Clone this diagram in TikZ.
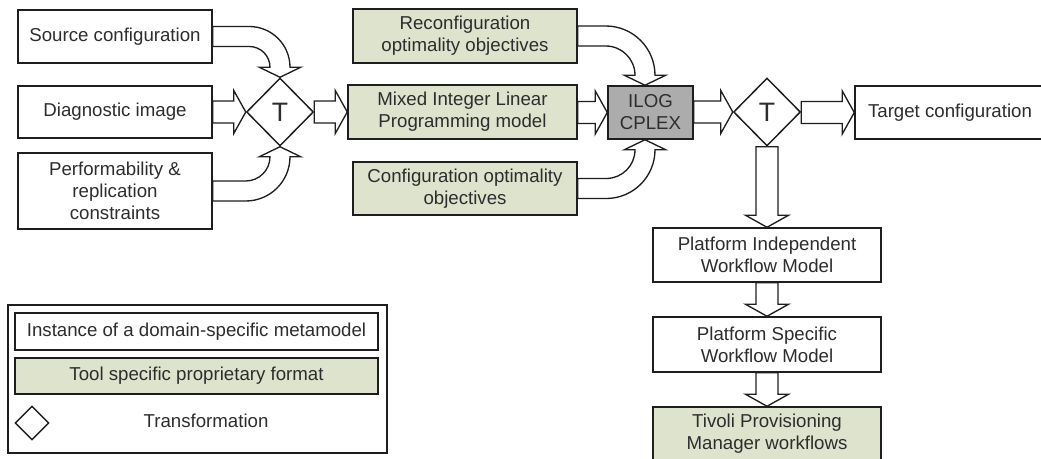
\documentclass[tikz,border=0pt]{standalone}
\usepackage{fontspec}
\setmainfont{Liberation Sans}
\usetikzlibrary{shapes.geometric,calc}
\definecolor{toolfill}{RGB}{221,227,205}
\definecolor{ilogfill}{RGB}{172,172,172}
\definecolor{linec}{RGB}{30,30,30}
\definecolor{textc}{RGB}{45,45,45}
\def\aSW{8.25pt}
\def\aHW{16.125pt}
\def\aHL{9pt}
\def\cSW{7.5pt}
\def\cHW{15.5pt}
\def\cHL{7.5pt}
\newcommand\HArrow[2]{\draw[blk] let \p1=(#1),\p2=(#2) in
  (\x1,\y2+\aSW) -- (\x2-\aHL,\y2+\aSW) -- (\x2-\aHL,\y2+\aHW) -- (\x2,\y2)
  -- (\x2-\aHL,\y2-\aHW) -- (\x2-\aHL,\y2-\aSW) -- (\x1,\y2-\aSW) -- cycle;}
\newcommand\VArrow[2]{\draw[blk] let \p1=(#1),\p2=(#2) in
  (\x2+\aSW,\y1) -- (\x2+\aSW,\y2+\aHL) -- (\x2+\aHW,\y2+\aHL) -- (\x2,\y2)
  -- (\x2-\aHW,\y2+\aHL) -- (\x2-\aSW,\y2+\aHL) -- (\x2-\aSW,\y1) -- cycle;}
\newcommand\CArrowDown[2]{\draw[blk] let \p1=(#1),\p2=(#2),\n1={\y1-\y2-\cHL} in
  (\x1,\y1+\cSW) -- (\x2-\n1,\y1+\cSW) arc[start angle=90,end angle=0,radius={\n1+\cSW}]
  -- (\x2+\cHW,\y2+\cHL) -- (\x2,\y2) -- (\x2-\cHW,\y2+\cHL) -- (\x2-\cSW,\y2+\cHL)
  arc[start angle=0,end angle=90,radius={\n1-\cSW}] -- (\x1,\y1-\cSW) -- cycle;}
\newcommand\CArrowUp[2]{\draw[blk] let \p1=(#1),\p2=(#2),\n1={\y2-\cHL-\y1} in
  (\x1,\y1-\cSW) -- (\x2-\n1,\y1-\cSW) arc[start angle=-90,end angle=0,radius={\n1+\cSW}]
  -- (\x2+\cHW,\y2-\cHL) -- (\x2,\y2) -- (\x2-\cHW,\y2-\cHL) -- (\x2-\cSW,\y2-\cHL)
  arc[start angle=0,end angle=-90,radius={\n1-\cSW}] -- (\x1,\y1+\cSW) -- cycle;}
\begin{document}
\begin{tikzpicture}[x=0.75pt,y=-0.75pt,
  box/.style={draw=linec,line width=1.1pt,fill=white,text=textc,align=center,inner sep=0pt,
    font=\fontsize{14}{16.5}\selectfont},
  toolbox/.style={box,fill=toolfill},
  ilogbox/.style={box,fill=ilogfill},
  trans/.style={draw=linec,line width=1.1pt,fill=white,diamond,inner sep=0pt,text=textc,
    minimum width=50.25pt,minimum height=51pt,font=\fontsize{20}{20}\selectfont},
  blk/.style={draw=linec,line width=1pt,fill=white,line join=miter},
  plain/.style={text=textc,font=\fontsize{14}{16.5}\selectfont,inner sep=0pt}]
\useasboundingbox (0,0) rectangle (1041,459);
\clip (0,0) rectangle (1041,459);
% left column
\node[box,minimum width=145.5pt,minimum height=39.75pt] (src) at (115,36.5) {Source configuration};
\node[box,minimum width=145.5pt,minimum height=39pt] (diag) at (115,112) {Diagnostic image};
\node[box,minimum width=145.5pt,minimum height=57pt] (perf) at (115,191) {Performability \&\\replication\\constraints};
\node[trans] (t1) at (280,112) {T};
% middle column
\node[toolbox,minimum width=168pt,minimum height=40.5pt] (recon) at (465,36) {Reconfiguration\\optimality objectives};
\node[toolbox,minimum width=171.75pt,minimum height=40.5pt] (milp) at (462.5,112) {Mixed Integer Linear\\Programming model};
\node[toolbox,minimum width=168pt,minimum height=39.75pt] (copt) at (465,188.5) {Configuration optimality\\objectives};
\node[ilogbox,minimum width=63.75pt,minimum height=39.75pt] (ilog) at (650.5,112.5) {ILOG\\CPLEX};
\node[trans] (t2) at (767,112) {T};
\node[box,minimum width=142.5pt,minimum height=39.75pt] (target) at (950,112.5) {Target configuration};
% workflow column
\node[box,minimum width=171pt,minimum height=40.5pt] (piwm) at (767,255) {Platform Independent\\Workflow Model};
\node[box,minimum width=171pt,minimum height=41.25pt] (pswm) at (767,344.5) {Platform Specific\\Workflow Model};
\node[toolbox,minimum width=171pt,minimum height=40.5pt] (tivoli) at (767,434) {Tivoli Provisioning\\Manager workflows};
% coordinates for curved arrow tips
\coordinate (ilogtop) at ($(ilog.north)+(-5.5,0)$);
\coordinate (ilogbot) at ($(ilog.south)+(-5.5,0)$);
% arrows
\CArrowDown{src.east}{t1.north}
\CArrowUp{perf.east}{t1.south}
\HArrow{diag.east}{t1.west}
\HArrow{t1.east}{milp.west}
\CArrowDown{recon.east}{ilogtop}
\CArrowUp{copt.east}{ilogbot}
\HArrow{milp.east}{ilog.west}
\HArrow{ilog.east}{t2.west}
\HArrow{t2.east}{target.west}
\VArrow{t2.south}{piwm.north}
\VArrow{piwm.south}{pswm.north}
\VArrow{pswm.south}{tivoli.north}
% legend
\node[draw=linec,line width=1.1pt,minimum width=284.25pt,minimum height=111pt,inner sep=0pt] (legend) at (197.5,379) {};
\node[box,minimum width=272.25pt,minimum height=27.75pt] (linst) at (196.5,331.5) {Instance of a domain-specific metamodel};
\node[toolbox,minimum width=272.25pt,minimum height=27pt] (ltool) at (196.5,376) {Tool specific proprietary format};
\node[trans,minimum width=25.5pt,minimum height=25.5pt] (ltrans) at (32,423) {};
\node[plain] (ltranstext) at (206,421) {Transformation};
\end{tikzpicture}
\end{document}
